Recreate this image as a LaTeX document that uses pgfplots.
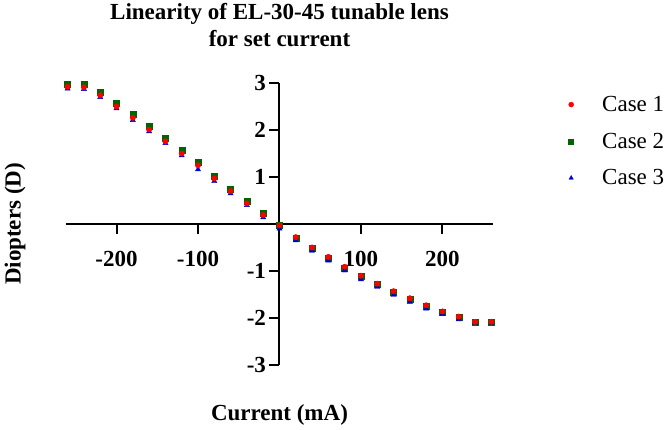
\documentclass[border=0pt]{standalone}
\usepackage{pgfplots}
\usepackage{pgfplotstable}
\pgfplotsset{compat=1.18}
\usepackage{fontspec}
\setmainfont{Liberation Serif}
\definecolor{cred}{RGB}{255,0,0}
\definecolor{cgreen}{RGB}{0,100,0}
\definecolor{cblue}{RGB}{0,0,205}
\pgfplotstableread{
x c1 c2 c3
-260 2.92 2.97 2.88
-240 2.91 2.97 2.87
-220 2.74 2.80 2.70
-200 2.50 2.57 2.46
-180 2.26 2.33 2.21
-160 2.01 2.08 1.97
-140 1.76 1.82 1.72
-120 1.50 1.56 1.46
-100 1.25 1.31 1.16
-80 0.97 1.01 0.91
-60 0.70 0.74 0.65
-40 0.44 0.48 0.40
-20 0.19 0.22 0.14
0 -0.03 -0.02 -0.10
20 -0.28 -0.30 -0.35
40 -0.50 -0.52 -0.57
60 -0.70 -0.72 -0.78
80 -0.91 -0.93 -0.99
100 -1.10 -1.12 -1.18
120 -1.27 -1.29 -1.34
140 -1.43 -1.45 -1.51
160 -1.58 -1.60 -1.66
180 -1.73 -1.75 -1.80
200 -1.86 -1.87 -1.92
220 -1.97 -1.98 -2.03
240 -2.08 -2.09 -2.10
260 -2.08 -2.09 -2.10
}\data
\begin{document}
\begin{tikzpicture}
\path[use as bounding box] (-66pt,-65pt) rectangle (604pt,365pt);
\begin{axis}[
  at={(0pt,0pt)}, anchor=south west,
  scale only axis, width=427pt, height=282pt,
  axis lines=middle,
  clip=false,
  xmin=-262, xmax=262, ymin=-3, ymax=3,
  xtick={-200,-100,100,200}, ytick={-3,-2,-1,1,2,3},
  axis line style={line width=2pt, -},
  major tick style={line width=2pt, black},
  tick align=outside, major tick length=10pt,
  tick label style={font=\fontsize{23}{25}\selectfont\bfseries},
  /pgf/number format/assume math mode=true,
  xticklabel style={yshift=-14pt},
  title={Linearity of EL-30-45 tunable lens\\for set current},
  title style={at={(axis description cs:0.5,1)}, anchor=south, align=center, inner sep=0pt, yshift=30pt, font=\fontsize{23}{26.7}\selectfont\bfseries},
  xlabel={Current (mA)},
  xlabel style={at={(axis description cs:0.5,0)}, anchor=center, yshift=-50pt, font=\fontsize{23}{25}\selectfont\bfseries},
  ylabel={Diopters (D)},
  ylabel style={at={(axis description cs:-0.1194,0.5)}, anchor=center, rotate=90, font=\fontsize{23}{25}\selectfont\bfseries},
  legend style={draw=none, fill=none, at={(axis description cs:1,1)}, anchor=north west, xshift=70pt, yshift=-11pt, font=\fontsize{23}{25}\selectfont, row sep=16pt, inner sep=0pt},
  legend cell align=left,
  legend image code/.code={\path[draw=none, fill=none] (0pt,0pt) -- (37pt,0pt); \path[#1] plot[only marks] coordinates {(8pt,0pt)};},
]
\addlegendimage{only marks, mark=*, mark size=2.5pt, color=cred}
\addlegendentry{Case 1}
\addlegendimage{only marks, mark=square*, mark size=2.5pt, color=cgreen}
\addlegendentry{Case 2}
\addlegendimage{only marks, mark=triangle*, mark size=2.5pt, color=cblue}
\addlegendentry{Case 3}
\addplot[forget plot, only marks, mark=square*, mark size=3pt, color=cgreen] table[x=x, y=c2] {\data};
\addplot[forget plot, only marks, mark=triangle*, mark size=3pt, color=cblue] table[x=x, y=c3] {\data};
\addplot[forget plot, only marks, mark=*, mark size=2.7pt, color=cred] table[x=x, y=c1] {\data};
\end{axis}
\end{tikzpicture}
\end{document}
